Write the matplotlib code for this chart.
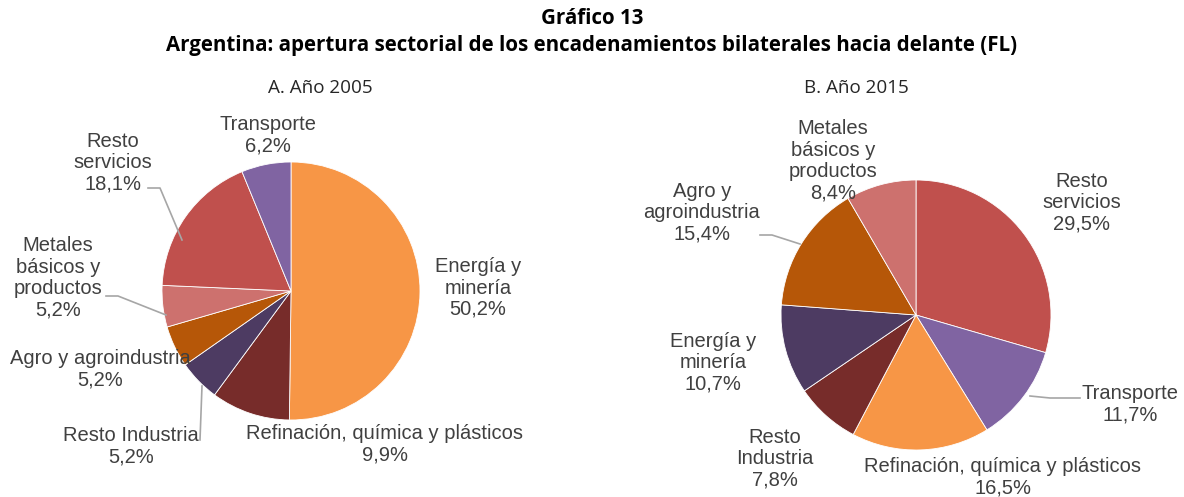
import matplotlib
matplotlib.use("Agg")
import matplotlib.pyplot as plt

W, H = 1184, 497

# ---- data ----
labels_2005 = ["Energía y\nminería", "Refinación, química y plásticos", "Resto Industria",
               "Agro y agroindustria", "Metales\nbásicos y\nproductos", "Resto\nservicios", "Transporte"]
values_2005 = [50.2, 9.9, 5.2, 5.2, 5.2, 18.1, 6.2]

labels_2015 = ["Resto\nservicios", "Transporte", "Refinación, química y plásticos", "Resto\nIndustria",
               "Energía y\nminería", "Agro y\nagroindustria", "Metales\nbásicos y\nproductos"]
values_2015 = [29.5, 11.7, 16.5, 7.8, 10.7, 15.4, 8.4]

colors_2005 = ["#F79646", "#772C2A", "#4D3B62", "#B65708", "#CD716E", "#C0504D", "#8064A2"]
colors_2015 = ["#C0504D", "#8064A2", "#F79646", "#772C2A", "#4D3B62", "#B65708", "#CD716E"]

title1 = "Gráfico 13"
title2 = "Argentina: apertura sectorial de los encadenamientos bilaterales hacia delante (FL)"
sub_a = "A. Año 2005"
sub_b = "B. Año 2015"

# ---- layout ----
fig = plt.figure(figsize=(W / 100, H / 100), dpi=100)
ax = fig.add_axes([0, 0, 1, 1])

def Y(y):
    return H - y

TXT = "#404040"
LAB_FONT = dict(family=["Liberation Sans", "DejaVu Sans"], fontsize=14.5, color=TXT,
                ha="center", va="center", linespacing=1.16)
LEAD = "#A6A6A6"

def fmt(v):
    return f"{v:.1f}".replace(".", ",") + "%"

# pies
ax.pie(values_2005, colors=colors_2005, startangle=90, counterclock=False,
       center=(291, Y(291)), radius=129, frame=True,
       wedgeprops=dict(edgecolor="white", linewidth=0.6))
ax.pie(values_2015, colors=colors_2015, startangle=90, counterclock=False,
       center=(916, Y(315)), radius=135, frame=True,
       wedgeprops=dict(edgecolor="white", linewidth=0.6))
ax.set_xlim(0, W)
ax.set_ylim(0, H)
ax.set_aspect("equal")
ax.axis("off")

# label positions (pixel coordinates of block centres)
pos_2005 = [(478, 288), (385, 444), (131, 446), (100, 369), (58, 278), (113, 163), (268, 135)]
pos_2015 = [(1082, 203), (1130, 404), (1003, 477), (775, 459), (713, 363), (702, 213), (833, 161)]

for lab, v, (x, y) in zip(labels_2005, values_2005, pos_2005):
    ax.text(x, Y(y), lab + "\n" + fmt(v), **LAB_FONT)
for lab, v, (x, y) in zip(labels_2015, values_2015, pos_2015):
    ax.text(x, Y(y), lab + "\n" + fmt(v), **LAB_FONT)

# leader lines
leaders = [
    [(148, 188), (160, 188), (182, 240)],
    [(106, 296), (118, 296), (166, 315)],
    [(200, 440), (202, 386)],
    [(760, 235), (772, 235), (800, 244)],
    [(1080, 398), (1050, 398), (1030, 396)],
]
for pts in leaders:
    ax.plot([p[0] for p in pts], [Y(p[1]) for p in pts], color=LEAD, lw=1.2, zorder=1)

# titles
TF = ["Open Sans", "DejaVu Sans"]
ax.text(592, Y(18), title1, ha="center", va="center", fontsize=14.8, fontweight="bold", family=TF, color="black")
ax.text(592, Y(46), title2, ha="center", va="center", fontsize=14.8, fontweight="bold", family=TF, color="black")
ax.text(320, Y(88), sub_a, ha="center", va="center", fontsize=13.6, family=TF, color="#262626")
ax.text(856, Y(88), sub_b, ha="center", va="center", fontsize=13.6, family=TF, color="#262626")

fig.savefig("out.png", dpi=100, facecolor="white")
